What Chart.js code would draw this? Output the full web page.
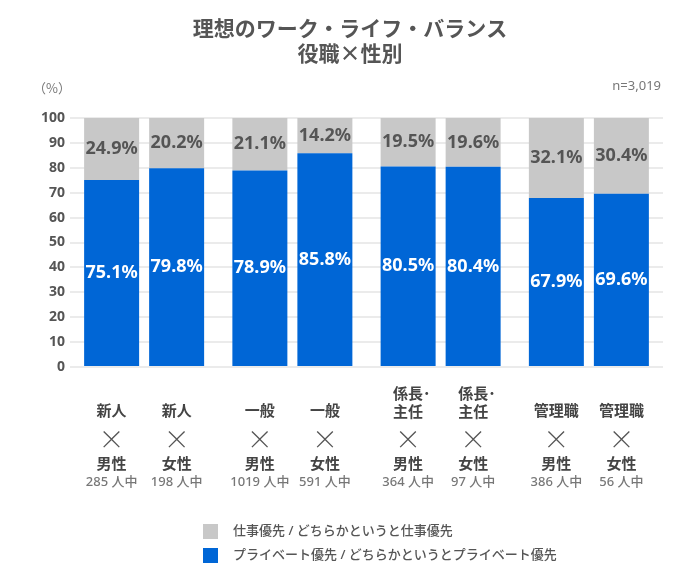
<!DOCTYPE html>
<html>
<head>
<meta charset="utf-8">
<script src="https://cdn.jsdelivr.net/npm/chart.js@4"></script>
<style>
  body { margin: 0; background: #fff; }
  canvas { display: block; }
</style>
</head>
<body>
<canvas id="wlbChart" width="700" height="565"></canvas>
<script>
// données
var roles = ["新人", "一般", ["係長･", "主任"], "管理職"];
var genders = ["男性", "女性"];
var maleCounts = [285, 1019, 364, 386];
var femaleCounts = [198, 591, 97, 56];
var malePrivate = [75.1, 78.9, 80.5, 67.9];
var maleWork = [24.9, 21.1, 19.5, 32.1];
var femalePrivate = [79.8, 85.8, 80.4, 69.6];
var femaleWork = [20.2, 14.2, 19.6, 30.4];
var seriesNames = ["仕事優先 / どちらかというと仕事優先", "プライベート優先 / どちらかというとプライベート優先"];
var yTicks = [0, 10, 20, 30, 40, 50, 60, 70, 80, 90, 100];

var FONT = "'Noto Sans', 'Noto Sans CJK JP', sans-serif";
var CJK = "'Noto Sans CJK JP', sans-serif";
var BLUE = "#0066d6";
var GREY = "#c8c8c8";
var TXT = "#555555";

// textes autour du graphique + étiquettes
var decoPlugin = {
  id: "deco",
  afterDraw: function (chart) {
    var ctx = chart.ctx;
    ctx.save();
    ctx.textBaseline = "middle";

    // titre
    ctx.fillStyle = TXT;
    ctx.textAlign = "center";
    ctx.font = "bold 21px " + CJK;
    ctx.fillText("理想のワーク・ライフ・バランス", 350, 28);
    ctx.fillText("役職×性別", 350, 53);

    ctx.font = "13px " + CJK;
    ctx.fillStyle = "#777";
    ctx.textAlign = "left";
    ctx.fillText("（%）", 33, 88);
    ctx.font = "13px " + FONT;
    ctx.textAlign = "right";
    ctx.fillText("n=3,019", 661, 86);

    // valeurs dans les barres
    ctx.textAlign = "center";
    ctx.font = "bold 18px " + FONT;
    chart.data.datasets.forEach(function (ds, d) {
      var meta = chart.getDatasetMeta(d);
      meta.data.forEach(function (bar, i) {
        var p = bar.getCenterPoint();
        ctx.fillStyle = ds.backgroundColor === BLUE ? "#ffffff" : TXT;
        ctx.fillText(ds.data[i].toFixed(1) + "%", p.x, p.y);
      });
    });

    // étiquettes de l'axe x (une par barre)
    for (var g = 0; g < 2; g++) {
      var meta = chart.getDatasetMeta(g);
      var counts = g === 0 ? maleCounts : femaleCounts;
      meta.data.forEach(function (bar, i) {
        var x = bar.x;
        var r = roles[i];
        ctx.fillStyle = "#444";
        ctx.font = "bold 15px " + FONT;
        if (Array.isArray(r)) {
          ctx.textAlign = "center";
          ctx.fillText(r[1], x, 413);
          // le point dépasse à droite, comme sur l'original
          var w = ctx.measureText(r[1]).width;
          ctx.textAlign = "left";
          ctx.fillText(r[0], x - w / 2, 395);
          ctx.textAlign = "center";
        } else {
          ctx.fillText(r, x, 412);
        }
        ctx.fillStyle = TXT;
        ctx.font = "300 26px " + CJK;
        ctx.fillText("×", x, 439);
        ctx.fillStyle = "#444";
        ctx.font = "bold 15px " + FONT;
        ctx.fillText(genders[g], x, 465);
        ctx.fillStyle = "#777";
        ctx.font = "500 13px " + FONT;
        ctx.fillText(counts[i] + " 人中", x, 482);
      });
    }

    // légende
    var legendColors = [GREY, BLUE];
    ctx.textAlign = "left";
    ctx.font = "500 13px " + FONT;
    seriesNames.forEach(function (name, k) {
      var y = 531 + k * 24;
      ctx.fillStyle = legendColors[k];
      ctx.fillRect(203, y - 7, 15, 15);
      ctx.fillStyle = TXT;
      ctx.fillText(name, 233, y);
    });
    ctx.restore();
  }
};

var ctxChart = document.getElementById("wlbChart");
var myChart = new Chart(ctxChart, {
  type: "bar",
  data: {
    labels: roles,
    datasets: [
      { label: seriesNames[1], data: malePrivate, backgroundColor: BLUE, stack: "m" },
      { label: seriesNames[1], data: femalePrivate, backgroundColor: BLUE, stack: "f" },
      { label: seriesNames[0], data: maleWork, backgroundColor: GREY, stack: "m" },
      { label: seriesNames[0], data: femaleWork, backgroundColor: GREY, stack: "f" }
    ]
  },
  options: {
    responsive: false,
    animation: false,
    categoryPercentage: 0.877,
    barPercentage: 0.846,
    layout: { padding: { top: 118, right: 37, bottom: 198, left: 0 } },
    plugins: {
      legend: { display: false },
      tooltip: { enabled: false }
    },
    scales: {
      x: {
        stacked: true,
        display: false
      },
      y: {
        stacked: true,
        min: 0,
        max: 100,
        afterBuildTicks: function (scale) {
          scale.ticks = yTicks.map(function (v) { return { value: v }; });
        },
        afterFit: function (scale) { scale.width = 70; },
        border: { display: false },
        grid: { color: "#ebebeb", lineWidth: 2, drawTicks: false },
        ticks: {
          padding: 5,
          color: TXT,
          font: { family: FONT, size: 14, weight: "bold" }
        }
      }
    }
  },
  plugins: [decoPlugin]
});
</script>
</body>
</html>
